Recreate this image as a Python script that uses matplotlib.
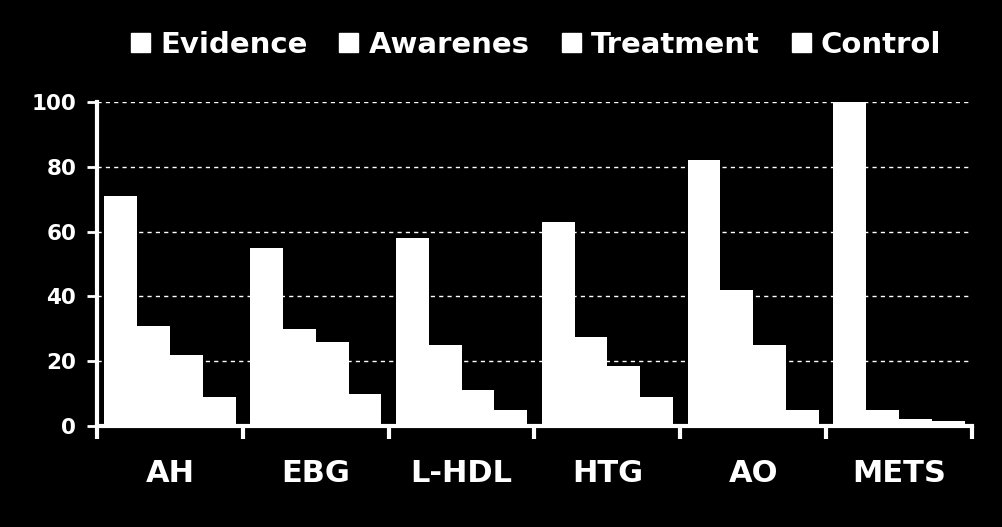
import numpy as np
import matplotlib
matplotlib.use("Agg")
import matplotlib.pyplot as plt
from matplotlib.patches import Patch

categories = ["AH", "EBG", "L-HDL", "HTG", "AO", "METS"]
series = ["Evidence", "Awarenes", "Treatment", "Control"]
evidence = [71, 55, 58, 63, 82, 100]
awareness = [31, 30, 25, 27.5, 42, 5]
treatment = [22, 26, 11, 18.5, 25, 2]
control = [9, 10, 5, 9, 5, 1.5]
values = [evidence, awareness, treatment, control]

plt.rcParams['font.family'] = 'DejaVu Sans'
plt.rcParams['font.weight'] = 'bold'

fig = plt.figure(figsize=(10.02, 5.27), dpi=100, facecolor='black')
ax = fig.add_axes([0.0968, 0.1917, 0.8732, 0.6148], facecolor='black')

x = np.arange(len(categories))
width = 0.225
for i, vals in enumerate(values):
    ax.bar(x - 1.5 * width + i * width, vals, width, color='white',
           linewidth=0, zorder=3, label=series[i])

ax.set_xlim(-0.5, len(categories) - 0.5)
ax.set_ylim(0, 100)
ax.set_yticks([0, 20, 40, 60, 80, 100])
ax.yaxis.grid(True, color='white', linestyle=(0, (3, 3)), linewidth=1)
ax.set_axisbelow(True)

# category labels between boundary ticks
ax.set_xticks(np.arange(len(categories) + 1) - 0.5)
ax.set_xticklabels([])
ax.set_xticks(x, minor=True)
ax.set_xticklabels(categories, minor=True, fontsize=22, fontweight='bold', color='white')
ax.tick_params(axis='x', which='minor', length=0, pad=24)
ax.tick_params(axis='x', which='major', length=9, width=3, color='white', direction='out')
ax.tick_params(axis='y', length=7, width=2, color='white', direction='out',
               labelsize=15.5, labelcolor='white', pad=8)

for s in ['top', 'right']:
    ax.spines[s].set_visible(False)
ax.spines['left'].set_color('white')
ax.spines['left'].set_linewidth(3)
ax.spines['bottom'].set_color('white')
ax.spines['bottom'].set_linewidth(3)

handles = [Patch(facecolor='white', edgecolor='white') for _ in series]
leg = fig.legend(handles, series, loc='center', bbox_to_anchor=(0.535, 0.915),
                 ncol=4, frameon=False, fontsize=21, handlelength=0.65, handleheight=0.65,
                 handletextpad=0.35, columnspacing=1.1)
for t in leg.get_texts():
    t.set_color('white')
    t.set_fontweight('bold')

fig.savefig('out.png', dpi=100, facecolor='black')
